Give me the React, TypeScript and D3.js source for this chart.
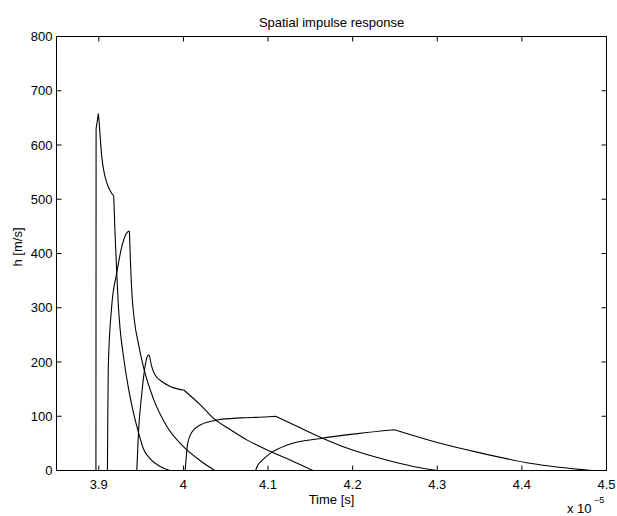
import React from 'react';
import * as d3 from 'd3';

// time values are in units of 1e-5 s (the axis shows "x 10^-5")
const xTicks = [3.9, 4, 4.1, 4.2, 4.3, 4.4, 4.5];
const yTicks = [0, 100, 200, 300, 400, 500, 600, 700, 800];

type Pt = [number, number];

// each response is split at its kinks, every piece is drawn smooth
const response1: Pt[][] = [
  [[3.8966, 0], [3.8968, 630]],
  [[3.8968, 630], [3.8995, 658]],
  [[3.8995, 658], [3.9005, 640], [3.9014, 620], [3.9034, 580], [3.9073, 542],
    [3.9112, 523], [3.9152, 511], [3.9176, 506]],
  [[3.9176, 506], [3.9192, 437], [3.9212, 364], [3.9231, 304], [3.9251, 262],
    [3.929, 212], [3.935, 152], [3.941, 106], [3.948, 64], [3.9527, 40],
    [3.961, 21], [3.972, 8], [3.984, 0]],
];

const response2: Pt[][] = [
  [[3.9102, 0], [3.9106, 100], [3.9112, 191], [3.9152, 302], [3.9212, 364],
    [3.9271, 412], [3.9322, 436], [3.935, 441]],
  [[3.935, 441], [3.9362, 441]],
  [[3.9362, 441], [3.9375, 380], [3.9395, 318], [3.942, 277], [3.947, 232],
    [3.9527, 191], [3.9646, 132], [3.9805, 81], [4.0, 44], [4.02, 18],
    [4.037, 0]],
];

const response3: Pt[][] = [
  [[3.9449, 0], [3.9468, 68], [3.9508, 142], [3.954, 185], [3.9568, 208],
    [3.9587, 213]],
  [[3.9587, 213], [3.9598, 212]],
  [[3.9598, 212], [3.9627, 191], [3.9666, 176], [3.9745, 164], [3.9844, 155],
    [3.9943, 150], [4.0008, 148]],
  [[4.0008, 148], [4.02, 121], [4.0358, 96], [4.0556, 75], [4.0754, 56],
    [4.103, 35], [4.1268, 19], [4.153, 0]],
];

const response4: Pt[][] = [
  [[4.002, 0], [4.0034, 25], [4.005, 50], [4.0101, 71], [4.02, 84],
    [4.0398, 93], [4.0674, 97], [4.095, 98.5], [4.109, 100]],
  [[4.109, 100], [4.1347, 81], [4.1624, 61], [4.194, 41], [4.2335, 22],
    [4.273, 7], [4.3, 0]],
];

const response5: Pt[][] = [
  [[4.0852, 0], [4.088, 10], [4.0932, 19], [4.103, 32], [4.1228, 47],
    [4.1623, 59], [4.2059, 68], [4.2493, 75]],
  [[4.2493, 75], [4.2967, 53], [4.3521, 32], [4.4114, 13], [4.4826, 0]],
];

const responses = [response1, response2, response3, response4, response5];

const W = 617;
const H = 516;
const left = 56.5;
const right = 606.5;
const top = 36.5;
const bottom = 470.5;
const font = '"Liberation Sans", Arial, Helvetica, sans-serif';

export default function App() {
  const x = d3.scaleLinear().domain([3.85, 4.5]).range([left, right]);
  const y = d3.scaleLinear().domain([0, 800]).range([bottom, top]);
  const line = d3
    .line<Pt>()
    .x((d) => x(d[0]))
    .y((d) => y(d[1]))
    .curve(d3.curveMonotoneX);
  const tickLen = 5;

  const pathFor = (segs: Pt[][]) => segs.map((s) => line(s) || '').join('');

  return (
    <svg
      width={W}
      height={H}
      style={{ position: 'absolute', left: 0, top: 0, background: '#fff' }}
      fontFamily={font}
    >
      <rect x={0} y={0} width={W} height={H} fill="#fff" />

      {responses.map((r, i) => (
        <path
          key={i}
          d={pathFor(r)}
          fill="none"
          stroke="#000"
          strokeWidth={1.1}
          strokeLinejoin="round"
        />
      ))}

      {/* ticks on all four sides, pointing inward */}
      {xTicks.map((t) => (
        <g key={'x' + t}>
          <line x1={x(t)} x2={x(t)} y1={bottom} y2={bottom - tickLen} stroke="#000" />
          <line x1={x(t)} x2={x(t)} y1={top} y2={top + tickLen} stroke="#000" />
          <text x={x(t)} y={bottom + 18} textAnchor="middle" fontSize={13} fill="#000">
            {String(t)}
          </text>
        </g>
      ))}
      {yTicks.map((t) => (
        <g key={'y' + t}>
          <line x1={left} x2={left + tickLen} y1={y(t)} y2={y(t)} stroke="#000" />
          <line x1={right} x2={right - tickLen} y1={y(t)} y2={y(t)} stroke="#000" />
          <text x={left - 4} y={y(t) + 4.5} textAnchor="end" fontSize={13} fill="#000">
            {String(t)}
          </text>
        </g>
      ))}

      <rect
        x={left}
        y={top}
        width={right - left}
        height={bottom - top}
        fill="none"
        stroke="#000"
        strokeWidth={1}
      />

      <text x={(left + right) / 2} y={27} textAnchor="middle" fontSize={13} fill="#000">
        Spatial impulse response
      </text>
      <text x={(left + right) / 2} y={504} textAnchor="middle" fontSize={13} fill="#000">
        Time [s]
      </text>
      <text
        transform={`translate(22,247) rotate(-90)`}
        textAnchor="middle"
        fontSize={13}
        fill="#000"
      >
        h [m/s]
      </text>
      <text x={567} y={513} fontSize={13} fill="#000">
        x 10
      </text>
      <text x={594} y={503} fontSize={9} fill="#000">
        −5
      </text>
    </svg>
  );
}
